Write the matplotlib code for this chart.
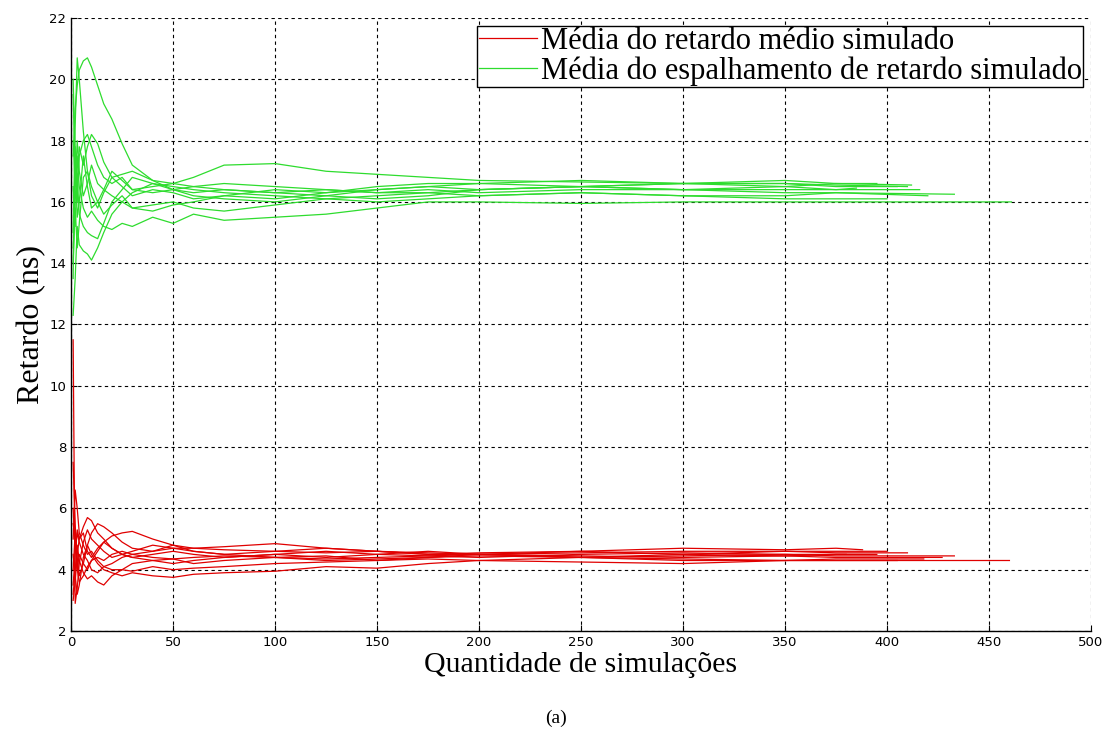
import matplotlib
matplotlib.use("Agg")
import matplotlib.pyplot as plt

# sample positions (number of simulations) at which each running mean was read
x_grid = [1, 2, 3, 4, 6, 8, 10, 13, 16, 20, 25, 30, 40, 50, 60, 75,
          100, 125, 150, 175, 200, 250, 300, 350, 375]

# mean delay spread runs (green); last value is at the run's end
green_ends = [433, 416, 410, 461, 405, 400, 395, 420, 385, 412]
green_runs = [
    [17.5, 19.0, 19.8, 20.3, 20.6, 20.7, 20.4, 19.8, 19.2, 18.7, 17.9, 17.2, 16.7, 16.6, 16.5, 16.4,
     16.3, 16.4, 16.3, 16.4, 16.3, 16.4, 16.4, 16.3, 16.3, 16.25],
    [15.0, 18.5, 20.7, 20.0, 18.3, 17.0, 16.2, 15.8, 16.3, 16.8, 16.5, 16.2, 16.4, 16.3, 16.1, 16.2,
     16.4, 16.3, 16.4, 16.5, 16.4, 16.5, 16.4, 16.5, 16.4, 16.4],
    [19.5, 17.0, 16.0, 17.5, 18.0, 18.2, 17.8, 17.2, 16.8, 16.6, 16.8, 16.4, 16.5, 16.6, 16.8, 17.2,
     17.25, 17.0, 16.9, 16.8, 16.7, 16.65, 16.6, 16.6, 16.55, 16.5],
    [14.0, 16.0, 17.5, 16.5, 15.8, 15.5, 15.7, 15.4, 15.2, 15.1, 15.3, 15.2, 15.5, 15.3, 15.6, 15.4,
     15.5, 15.6, 15.8, 16.0, 16.0, 15.95, 16.0, 16.0, 16.0, 16.0],
    [12.3, 13.5, 15.2, 14.6, 14.4, 14.3, 14.1, 14.5, 15.0, 15.6, 16.0, 16.3, 16.6, 16.5, 16.4, 16.3,
     16.2, 16.1, 16.2, 16.3, 16.4, 16.5, 16.6, 16.6, 16.5, 16.5],
    [16.5, 15.2, 16.8, 15.6, 15.2, 15.0, 14.9, 14.8, 15.3, 16.0, 16.4, 16.8, 16.6, 16.4, 16.5, 16.6,
     16.5, 16.4, 16.3, 16.3, 16.2, 16.3, 16.2, 16.1, 16.1, 16.1],
    [20.0, 17.5, 16.6, 17.8, 17.2, 17.8, 18.2, 17.9, 17.3, 16.8, 16.9, 17.0, 16.7, 16.4, 16.2, 16.1,
     16.0, 16.2, 16.1, 16.2, 16.4, 16.5, 16.6, 16.7, 16.6, 16.6],
    [13.5, 17.8, 15.5, 16.0, 17.5, 16.5, 15.8, 16.0, 15.6, 15.9, 16.2, 15.8, 15.9, 16.0, 15.8, 15.7,
     15.9, 16.1, 16.0, 16.1, 16.2, 16.3, 16.2, 16.2, 16.3, 16.2],
    [18.0, 16.5, 18.0, 17.0, 16.2, 16.6, 17.2, 16.6, 16.4, 16.2, 16.0, 15.8, 15.7, 15.9, 16.0, 16.2,
     16.1, 16.3, 16.5, 16.6, 16.6, 16.5, 16.4, 16.4, 16.4, 16.45],
    [14.5, 15.8, 14.5, 15.3, 16.8, 17.0, 16.5, 16.0, 16.4, 17.0, 16.7, 16.4, 16.3, 16.4, 16.3, 16.4,
     16.3, 16.2, 16.4, 16.5, 16.6, 16.7, 16.6, 16.5, 16.6, 16.55],
]

# mean delay runs (red)
red_ends = [410, 433, 460, 400, 427, 388, 405, 418, 395, 380]
red_runs = [
    [5.0, 6.6, 6.0, 5.2, 4.8, 4.5, 4.6, 4.3, 4.1, 4.2, 4.4, 4.5, 4.6, 4.7, 4.7, 4.65,
     4.6, 4.55, 4.6, 4.5, 4.5, 4.55, 4.6, 4.6, 4.55, 4.55],
    [11.5, 2.9, 3.4, 4.2, 4.9, 5.3, 5.0, 4.8, 4.6, 4.4, 4.5, 4.6, 4.8, 4.7, 4.6, 4.5,
     4.4, 4.3, 4.35, 4.4, 4.45, 4.4, 4.45, 4.5, 4.45, 4.45],
    [3.5, 4.5, 5.3, 5.0, 5.4, 5.7, 5.6, 5.2, 5.0, 4.7, 4.5, 4.4, 4.3, 4.2, 4.3, 4.4,
     4.5, 4.4, 4.5, 4.6, 4.5, 4.4, 4.3, 4.3, 4.3, 4.3],
    [4.0, 5.2, 4.4, 3.8, 4.2, 4.8, 5.2, 5.5, 5.4, 5.2, 4.9, 4.7, 4.6, 4.8, 4.6, 4.5,
     4.6, 4.7, 4.6, 4.5, 4.55, 4.6, 4.5, 4.6, 4.6, 4.6],
    [3.2, 4.0, 4.8, 4.3, 3.9, 3.7, 3.8, 3.6, 3.5, 3.8, 4.0, 4.2, 4.3, 4.35, 4.2, 4.3,
     4.4, 4.45, 4.3, 4.4, 4.5, 4.4, 4.5, 4.45, 4.4, 4.4],
    [7.5, 5.5, 4.0, 4.5, 4.2, 4.0, 4.3, 4.6, 4.9, 5.1, 5.2, 5.25, 5.0, 4.8, 4.7, 4.75,
     4.85, 4.7, 4.6, 4.55, 4.5, 4.6, 4.7, 4.65, 4.7, 4.65],
    [4.5, 3.8, 3.2, 3.5, 4.4, 4.8, 4.5, 4.2, 4.0, 3.9, 3.8, 3.9, 3.8, 3.75, 3.85, 3.9,
     3.95, 4.1, 4.05, 4.2, 4.3, 4.25, 4.2, 4.3, 4.3, 4.3],
    [6.0, 4.6, 5.2, 4.9, 4.5, 4.3, 4.0, 3.9, 4.1, 4.0, 4.0, 3.95, 4.1, 4.0, 4.05, 4.1,
     4.2, 4.25, 4.3, 4.35, 4.3, 4.4, 4.35, 4.3, 4.35, 4.35],
    [3.0, 3.6, 4.5, 5.0, 5.2, 4.6, 4.4, 4.7, 4.9, 4.7, 4.5, 4.4, 4.5, 4.6, 4.5, 4.4,
     4.5, 4.6, 4.5, 4.45, 4.4, 4.5, 4.55, 4.5, 4.5, 4.5],
    [5.5, 5.0, 4.0, 3.6, 3.8, 4.1, 4.3, 4.4, 4.3, 4.5, 4.6, 4.5, 4.4, 4.35, 4.4, 4.45,
     4.4, 4.35, 4.4, 4.45, 4.5, 4.45, 4.4, 4.45, 4.5, 4.5],
]

x_ticks = [0, 50, 100, 150, 200, 250, 300, 350, 400, 450, 500]
y_ticks = [2, 4, 6, 8, 10, 12, 14, 16, 18, 20, 22]

RED = "#e00000"
GREEN = "#2edc2e"
SERIF = ["Liberation Serif", "DejaVu Serif"]


def main() -> None:
	fig = plt.figure(figsize=(11.11, 7.38), dpi=100)
	ax = fig.add_axes((0.064, 0.145, 0.918, 0.8306))

	for i, (ys, n) in enumerate(zip(red_runs, red_ends)):
		xs = x_grid + [n]
		ax.plot(xs, ys, color=RED, linewidth=0.9,
				label="Média do retardo médio simulado" if i == 0 else None)
	for i, (ys, n) in enumerate(zip(green_runs, green_ends)):
		xs = x_grid + [n]
		ax.plot(xs, ys, color=GREEN, linewidth=0.9,
				label="Média do espalhamento de retardo simulado" if i == 0 else None)

	ax.set_xlim(0, 500)
	ax.set_ylim(2, 22)
	ax.set_xticks(x_ticks)
	ax.set_yticks(y_ticks)
	ax.tick_params(direction="in", length=4, labelsize=9.5, colors="black")
	ax.grid(True, color="black", linestyle=(0, (3, 3)), linewidth=0.8)
	ax.spines["top"].set_visible(False)
	ax.spines["right"].set_visible(False)
	for s in ("left", "bottom"):
		ax.spines[s].set_linewidth(1.0)

	ax.set_xlabel("Quantidade de simulações", family=SERIF, fontsize=21.5, labelpad=2)
	ax.set_ylabel("Retardo (ns)", family=SERIF, fontsize=23, labelpad=2)

	leg = ax.legend(loc="upper right", prop={"family": SERIF, "size": 22},
					fancybox=False, framealpha=1, edgecolor="black",
					handlelength=1.9, handletextpad=0.12, borderpad=0.05,
					labelspacing=0.0, borderaxespad=0.25)
	leg.get_frame().set_linewidth(1.0)

	fig.text(0.5, 0.027, "(a)", family=SERIF, fontsize=14, ha="center", va="center")

	fig.savefig("out.png", dpi=100)


if __name__ == "__main__":
	main()
